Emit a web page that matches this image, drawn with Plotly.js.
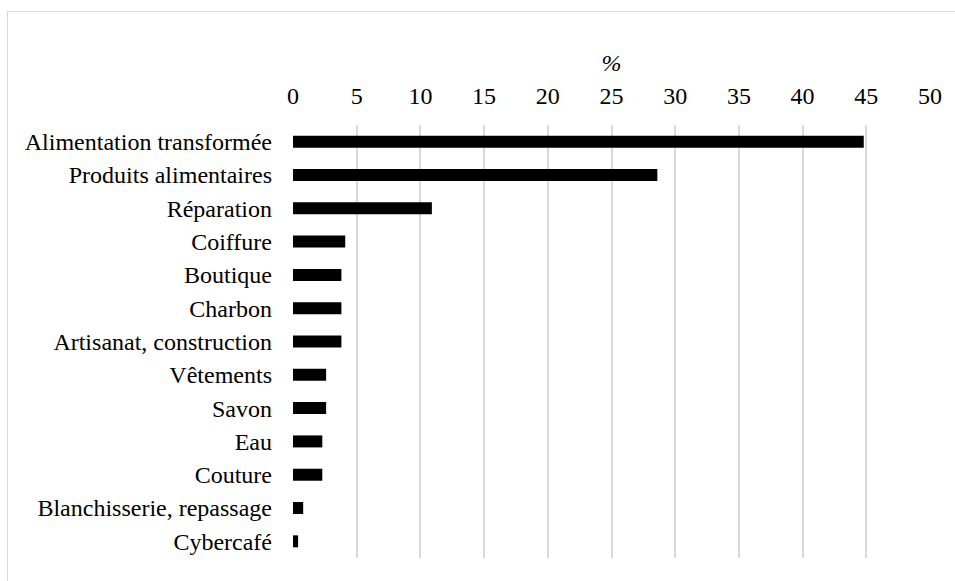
<!DOCTYPE html>
<html>
<head>
<meta charset="utf-8">
<script src="https://cdn.plot.ly/plotly-3.0.1.min.js"></script>
<style>
  html, body { margin: 0; padding: 0; background: #fff; }
  #frame { position: absolute; left: 7px; top: 11px; width: 948px; height: 570px; border-left: 1.5px solid #d9d9d9; border-top: 1.5px solid #d9d9d9; box-sizing: border-box; pointer-events: none; }
  #chart text { font-family: "Liberation Serif", "Times New Roman", Times, serif !important; }
</style>
</head>
<body>
<div id="chart" style="width:955px;height:581px"></div>
<div id="frame"></div>
<script>
const categories = [
  "Alimentation transformée",
  "Produits alimentaires",
  "Réparation",
  "Coiffure",
  "Boutique",
  "Charbon",
  "Artisanat, construction",
  "Vêtements",
  "Savon",
  "Eau",
  "Couture",
  "Blanchisserie, repassage",
  "Cybercafé"
];
const values = [44.8, 28.6, 10.9, 4.1, 3.8, 3.8, 3.8, 2.6, 2.6, 2.3, 2.3, 0.8, 0.4];
const tickValues = [0, 5, 10, 15, 20, 25, 30, 35, 40, 45, 50];

const FAMILY = '"Liberation Serif", "Times New Roman", Times, serif';
function mkFont() { return { family: FAMILY, size: 24, color: "#000000" }; }

function draw() {
  Plotly.newPlot("chart", [{
    type: "bar",
    orientation: "h",
    x: values,
    y: categories,
    marker: { color: "#000000", line: { width: 0 } },
    hoverinfo: "skip"
  }], {
    width: 955,
    height: 581,
    margin: { l: 293, r: 25, t: 125, b: 23, pad: 0 },
    paper_bgcolor: "#ffffff",
    plot_bgcolor: "#ffffff",
    font: mkFont(),
    bargap: 0.64,
    showlegend: false,
    xaxis: {
      side: "top",
      range: [0, 50],
      tickvals: tickValues,
      ticktext: tickValues.map(String),
      showgrid: true,
      gridcolor: "#d9d9d9",
      gridwidth: 1.5,
      zeroline: false,
      showline: false,
      ticks: "",
      tickfont: mkFont(),
      ticklabelstandoff: 15,
      automargin: false,
      title: { text: "<i>%</i>", font: mkFont(), standoff: 4 }
    },
    yaxis: {
      type: "category",
      autorange: "reversed",
      showgrid: false,
      zeroline: false,
      showline: false,
      ticks: "",
      tickfont: mkFont(),
      ticklabelstandoff: 20,
      automargin: false
    }
  }, { displayModeBar: false });
}
if (document.fonts && document.fonts.load) {
  document.fonts.load('24px "Liberation Serif"').then(draw, draw);
} else {
  draw();
}
</script>
</body>
</html>
